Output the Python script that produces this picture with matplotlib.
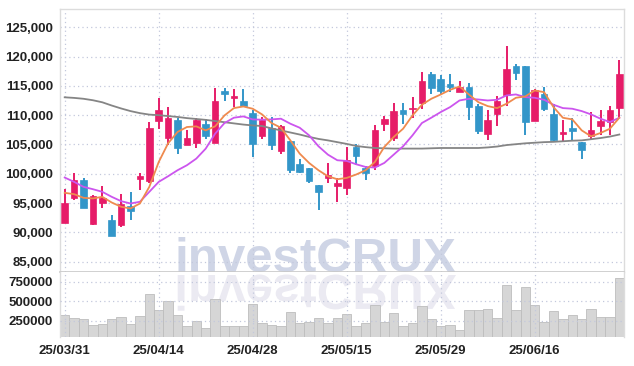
import matplotlib
matplotlib.use("Agg")
import matplotlib.pyplot as plt
from matplotlib import font_manager
from matplotlib.textpath import TextPath
from matplotlib.patches import PathPatch
from matplotlib.transforms import Affine2D
from matplotlib.font_manager import FontProperties
from matplotlib.ticker import FuncFormatter, FixedLocator
import numpy as np

# ---------------- data ----------------
dates = ["25/03/31", "25/04/01", "25/04/02", "25/04/03", "25/04/04",
         "25/04/07", "25/04/08", "25/04/09", "25/04/10", "25/04/11",
         "25/04/14", "25/04/15", "25/04/16", "25/04/17", "25/04/18",
         "25/04/21", "25/04/22", "25/04/23", "25/04/24", "25/04/25",
         "25/04/28", "25/04/29", "25/04/30", "25/05/02", "25/05/07",
         "25/05/08", "25/05/09", "25/05/12", "25/05/13", "25/05/14",
         "25/05/15", "25/05/16", "25/05/19", "25/05/20", "25/05/21",
         "25/05/22", "25/05/23", "25/05/26", "25/05/27", "25/05/28",
         "25/05/29", "25/05/30", "25/06/02", "25/06/04", "25/06/05",
         "25/06/09", "25/06/10", "25/06/11", "25/06/12", "25/06/13",
         "25/06/16", "25/06/17", "25/06/18", "25/06/19", "25/06/20",
         "25/06/23", "25/06/24", "25/06/25", "25/06/26", "25/06/27"]

opens = [91650, 95900, 98900, 91500, 95050, 92100, 91200, 94500, 99150, 98800,
         109000, 106100, 109100, 104950, 105250, 108450, 105300, 114200, 112900, 112450,
         110300, 106400, 107850, 103900, 105550, 101650, 100950, 98050, 99200, 97950,
         97600, 104600, 101000, 101350, 108500, 106100, 110800, 111050, 112050, 117100,
         116100, 115250, 113950, 114800, 111550, 106850, 110250, 113500, 118450, 118450,
         109000, 113650, 110150, 106800, 107850, 105450, 106450, 108150, 108900, 111200]
closes = [94950, 99000, 94200, 96200, 95900, 89450, 94800, 93700, 99650, 107850,
          110800, 109450, 104400, 106150, 109100, 106450, 112350, 113600, 113350, 111500,
          105050, 109200, 104900, 108100, 100650, 100300, 98800, 96900, 99750, 98400,
          102300, 103050, 100050, 107400, 109300, 110650, 110200, 111300, 115900, 114600,
          114200, 114800, 114800, 111400, 107300, 109100, 112500, 117900, 117200, 108850,
          114350, 111000, 105800, 107050, 107300, 104100, 107400, 108950, 110800, 116950]
highs = [97400, 100150, 99250, 96300, 97950, 93050, 96500, 96900, 100200, 108850,
         112950, 111400, 109550, 107500, 109550, 109300, 114650, 114650, 114500, 114500,
         110800, 109700, 109700, 108250, 105550, 102500, 100950, 98150, 101850, 99300,
         104600, 105050, 101350, 108400, 109850, 112100, 112100, 113100, 117350, 117350,
         116900, 117050, 115900, 115500, 111950, 110950, 113350, 121750, 118650, 118450,
         114500, 114800, 111950, 109250, 109550, 105450, 110550, 110950, 111500, 119450]
lows = [91600, 95600, 94100, 91250, 94100, 89400, 90950, 92100, 97200, 98500,
        107700, 104950, 103450, 104950, 104450, 105900, 105300, 112500, 111450, 111500,
        102850, 105950, 104100, 103450, 100050, 100200, 98450, 93900, 98450, 95100,
        96450, 101450, 99000, 100700, 107300, 105550, 108550, 109550, 111000, 113650,
        113650, 113950, 113950, 109100, 106850, 105700, 108150, 111500, 116050, 106650,
        109000, 110700, 105600, 105550, 105700, 102600, 105700, 106650, 106650, 109700]

ma5 = [96750, 96520, 95900, 95790, 96070, 95100, 94370, 94080, 94930, 97770,
       102000, 105200, 107130, 107980, 108090, 107410, 108090, 109960, 111210, 111490,
       111100, 110130, 108660, 107860, 105710, 103440, 101850, 100600, 99580, 99070,
       99300, 99870, 100600, 102020, 104580, 106280, 107690, 109960, 111780, 112800,
       113530, 114330, 114900, 113530, 112230, 111550, 111210, 111950, 112970, 113200,
       114220, 113930, 111380, 109560, 109280, 107410, 106390, 106960, 107690, 109560]
ma10 = [99360, 98620, 97770, 97370, 96920, 96070, 95330, 94930, 95220, 96920,
        98620, 99580, 100600, 101460, 102590, 104290, 106840, 108660, 109570, 109790,
        109280, 109230, 109280, 109400, 108550, 107860, 106560, 104690, 103270, 102310,
        102190, 101630, 101170, 101060, 101850, 103270, 104690, 106560, 108660, 109570,
        110530, 111380, 112510, 112800, 112680, 112510, 112630, 113370, 113540, 113080,
        112970, 112630, 111780, 111210, 111100, 110700, 110130, 109400, 108830, 109560]
ma_long = [113050, 112950, 112800, 112550, 112200, 111650, 111150, 110700, 110350, 110100,
           110000, 109850, 109700, 109500, 109350, 109200, 109000, 108800, 108600, 108400,
           108250, 108150, 107750, 107400, 107050, 106700, 106300, 105950, 105700, 105400,
           105100, 104750, 104550, 104400, 104350, 104300, 104300, 104300, 104300, 104350,
           104400, 104400, 104400, 104400, 104400, 104500, 104650, 104900, 105050, 105200,
           105300, 105400, 105450, 105550, 105650, 105700, 105900, 106100, 106350, 106700]

volumes = [323000, 280000, 267000, 190000, 203000, 267000, 301000, 207000, 306000, 588000,
           387000, 498000, 323000, 178000, 241000, 152000, 524000, 178000, 178000, 178000,
           460000, 216000, 195000, 178000, 357000, 216000, 233000, 280000, 216000, 280000,
           331000, 182000, 216000, 451000, 233000, 344000, 182000, 216000, 438000, 267000,
           182000, 190000, 130000, 387000, 387000, 396000, 280000, 708000, 387000, 678000,
           451000, 233000, 370000, 267000, 323000, 267000, 396000, 293000, 293000, 793000]

price_ticks = [85000, 90000, 95000, 100000, 105000, 110000, 115000, 120000, 125000]
volume_ticks = [250000, 500000, 750000]
date_tick_idx = [0, 10, 20, 30, 40, 50]
watermark = "investCRUX"

# ---------------- style ----------------
available = {f.name for f in font_manager.fontManager.ttflist}
if "Liberation Sans Narrow" in available:
    lab_family = ["Liberation Sans Narrow", "DejaVu Sans"]
    LAB_FS = 11
    WM_FS = 42
else:
    lab_family = ["Liberation Sans", "DejaVu Sans"]
    LAB_FS = 9.5
    WM_FS = 35.5
wm_family = lab_family

UP = "#e61c68"
DOWN = "#3396c9"
GRID = "#c3c8dc"
FRAME = "#dcdcdc"

W, H = 634, 366
fig = plt.figure(figsize=(W / 100, H / 100), dpi=100)
fig.patch.set_facecolor("white")

ax = fig.add_axes([60 / W, (H - 272) / H, 564 / W, 263 / H])
axv = fig.add_axes([60 / W, (H - 337) / H, 564 / W, 65 / H], sharex=ax)

x = np.arange(len(dates))

# price axes
ax.set_xlim(-0.5, len(dates) - 0.5)
ax.set_ylim(83240, 128120)
ax.set_axisbelow(True)
ax.grid(True, color=GRID, linestyle=(0, (1, 2.5)), linewidth=0.9)
ax.yaxis.set_major_locator(FixedLocator(price_ticks))
ax.xaxis.set_major_locator(FixedLocator(date_tick_idx))
ax.yaxis.set_major_formatter(FuncFormatter(lambda v, p: f"{int(v):,}"))
ax.tick_params(axis="both", length=0, labelsize=LAB_FS, colors="#222222", pad=5)
ax.tick_params(axis="x", labelbottom=False)
for lab in ax.get_yticklabels():
    lab.set_family(lab_family)
    lab.set_fontweight("bold")
for side in ["left", "top", "right"]:
    ax.spines[side].set_color(FRAME)
    ax.spines[side].set_linewidth(1.0)
ax.spines["bottom"].set_color("#c8c8c8")
ax.spines["bottom"].set_linewidth(1.2)

wm = ax.text(0.4525, 0.0, watermark, transform=ax.transAxes, ha="center",
             va="baseline", fontsize=WM_FS, fontweight="bold", family=wm_family,
             color="#cfd5e6", zorder=0.2)

colors = [UP if c >= o else DOWN for o, c in zip(opens, closes)]
ax.vlines(x, lows, highs, colors=colors, linewidth=1.4, zorder=2)
bottoms = [min(o, c) for o, c in zip(opens, closes)]
heights = [max(abs(c - o), 150) for o, c in zip(opens, closes)]
ax.bar(x, heights, bottom=bottoms, width=0.72, color=colors,
       edgecolor=colors, linewidth=0.5, zorder=2.2)

ax.plot(x, ma_long, color="#858585", linewidth=1.3, zorder=3)
ax.plot(x, ma10, color="#cc55ee", linewidth=1.3, zorder=3.1)
ax.plot(x, ma5, color="#ef8a4e", linewidth=1.3, zorder=3.2)

# volume axes
axv.set_ylim(41000, 874000)
axv.set_axisbelow(False)
axv.grid(True, color=GRID, linestyle=(0, (1, 2.5)), linewidth=0.9)
axv.yaxis.set_major_locator(FixedLocator(volume_ticks))
axv.yaxis.set_major_formatter(FuncFormatter(lambda v, p: f"{int(v)}"))
axv.xaxis.set_major_locator(FixedLocator(date_tick_idx))
axv.set_xticklabels([dates[i] for i in date_tick_idx])
axv.tick_params(axis="both", length=0, labelsize=LAB_FS, colors="#222222", pad=5)
axv.tick_params(axis="x", pad=6)
for lab in axv.get_yticklabels() + axv.get_xticklabels():
    lab.set_family(lab_family)
    lab.set_fontweight("bold")
for side in ["left", "right"]:
    axv.spines[side].set_color(FRAME)
    axv.spines[side].set_linewidth(1.0)
axv.spines["top"].set_visible(False)
axv.spines["bottom"].set_visible(False)

axv.bar(x, volumes, width=1.0, color="#d6d6d6", edgecolor="#bdbdbd",
        linewidth=0.6, zorder=1)

# mirrored watermark reflection (decorative)
fig.canvas.draw()
bb = wm.get_window_extent()
fp = FontProperties(family=wm_family, weight="bold")
tp = TextPath((0, 0), watermark, size=WM_FS * fig.dpi / 72, prop=fp)
ext = tp.get_extents()
base_y = (H - 272)
tr = Affine2D().translate(-ext.x0, 0).scale(1, -1).translate(bb.x0 + ext.x0, base_y - 3)
refl = PathPatch(tp, transform=tr, facecolor="#ebeaf2", edgecolor="none", zorder=0.5)
axv.add_patch(refl)

fig.savefig("out.png", dpi=100, facecolor="white")
